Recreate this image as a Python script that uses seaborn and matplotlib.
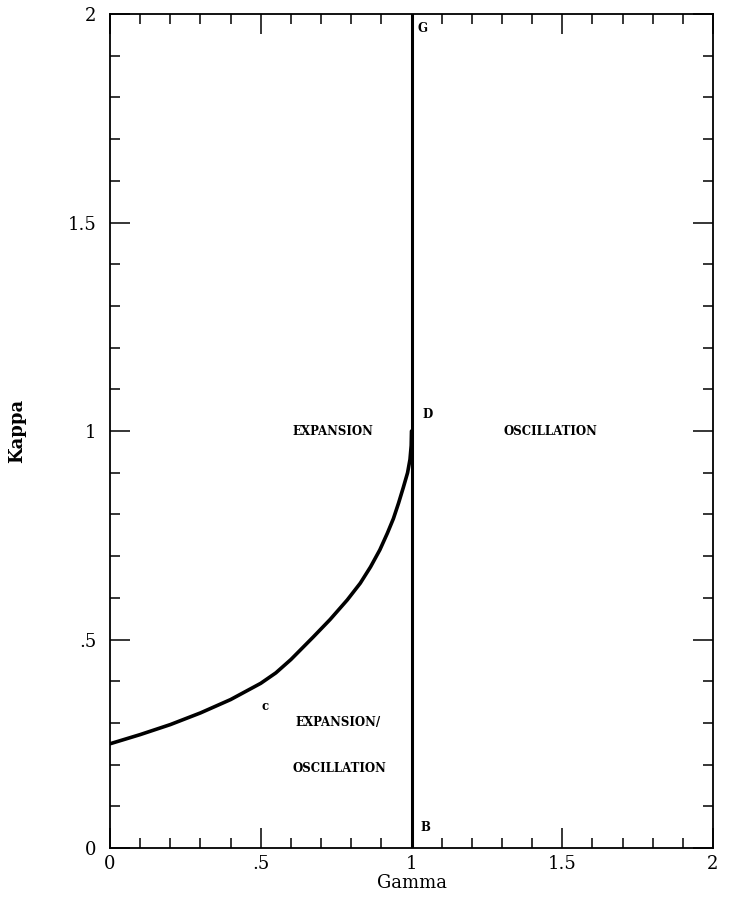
import numpy as np
import pandas as pd
import matplotlib
matplotlib.use("Agg")
import matplotlib.pyplot as plt
from matplotlib.ticker import MultipleLocator, FixedLocator
import seaborn as sns

# Boundary curve between the expansion and expansion/oscillation regions
gamma_curve = [0.0, 0.1, 0.2, 0.3, 0.4, 0.5, 0.55, 0.6, 0.674, 0.73,
               0.787, 0.83, 0.864, 0.895, 0.92, 0.94, 0.957, 0.973, 0.987,
               0.995, 0.999, 1.0]
kappa_curve = [0.25, 0.272, 0.296, 0.324, 0.356, 0.395, 0.42, 0.452, 0.506, 0.548,
               0.595, 0.635, 0.674, 0.715, 0.755, 0.79, 0.827, 0.865, 0.90,
               0.932, 0.965, 1.0]

# Vertical boundary at gamma = 1
gamma_line = [1.0, 1.0]
kappa_line = [0.0, 2.0]

# Axis ticks
major_ticks = [0, 0.5, 1, 1.5, 2]
tick_labels = ["0", ".5", "1", "1.5", "2"]

# Region labels and point markers
region_text = ["EXPANSION", "OSCILLATION", "EXPANSION/", "OSCILLATION"]
region_x = [0.74, 1.46, 0.755, 0.76]
region_y = [1.0, 1.0, 0.30, 0.19]
point_text = ["G", "D", "B", "c"]
point_x = [1.035, 1.055, 1.045, 0.515]
point_y = [1.965, 1.04, 0.05, 0.34]

sns.set_theme(style="ticks")
plt.rcParams["font.family"] = ["DejaVu Serif"]
plt.rcParams["text.color"] = "black"
plt.rcParams["axes.labelcolor"] = "black"
plt.rcParams["xtick.color"] = "black"
plt.rcParams["ytick.color"] = "black"

fig = plt.figure(figsize=(7.30, 8.99), dpi=100)
ax = fig.add_axes([0.1507, 0.0567, 0.8260, 0.9277])

curve_df = pd.DataFrame({"Gamma": gamma_curve, "Kappa": kappa_curve})
line_df = pd.DataFrame({"Gamma": gamma_line, "Kappa": kappa_line})

sns.lineplot(data=curve_df, x="Gamma", y="Kappa", sort=False, estimator=None,
             color="black", linewidth=2.6, ax=ax,
             solid_joinstyle="round", solid_capstyle="round")
sns.lineplot(data=line_df, x="Gamma", y="Kappa", sort=False, estimator=None,
             color="black", linewidth=2.2, ax=ax)

ax.set_xlim(0, 2)
ax.set_ylim(0, 2)

ax.xaxis.set_major_locator(FixedLocator(major_ticks))
ax.yaxis.set_major_locator(FixedLocator(major_ticks))
ax.set_xticklabels(tick_labels)
ax.set_yticklabels(tick_labels)
ax.xaxis.set_minor_locator(MultipleLocator(0.1))
ax.yaxis.set_minor_locator(MultipleLocator(0.1))

ax.tick_params(which="both", direction="in", top=True, right=True,
               color="black", width=1.1)
ax.tick_params(which="major", length=14.5, labelsize=13, pad=5)
ax.tick_params(which="minor", length=7.5)
ax.tick_params(axis="y", which="major", pad=10)

for spine in ax.spines.values():
    spine.set_linewidth(1.3)
    spine.set_color("black")

ax.set_xlabel("Gamma", fontsize=13, labelpad=1)
ax.set_ylabel("Kappa", fontsize=13, fontweight="bold", labelpad=30)

for t, x, y in zip(region_text, region_x, region_y):
    ax.text(x, y, t, fontsize=8.5, fontweight="bold", ha="center", va="center")
for t, x, y in zip(point_text, point_x, point_y):
    ax.text(x, y, t, fontsize=8.5, fontweight="bold", ha="center", va="center")

fig.savefig("out.png", dpi=100)
